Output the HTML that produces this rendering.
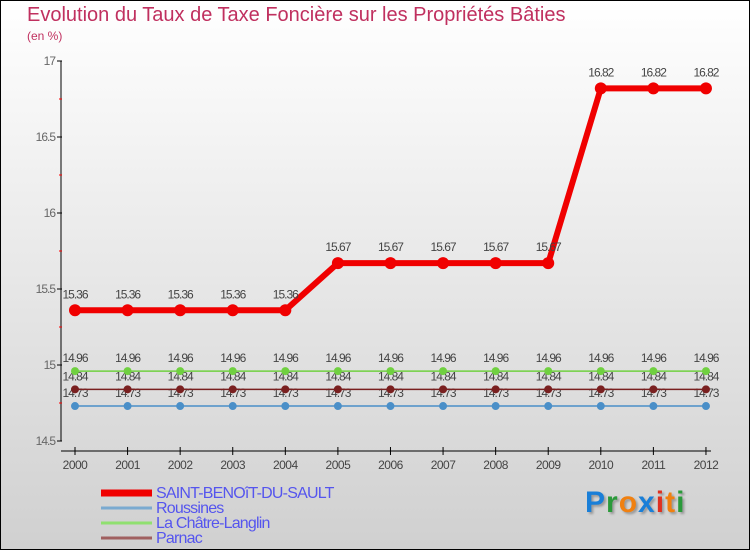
<!DOCTYPE html>
<html><head><meta charset="utf-8"><style>
html,body{margin:0;padding:0}
body{width:750px;height:550px;overflow:hidden;font-family:"Liberation Sans",sans-serif}
#wrap{position:relative;width:748px;height:548px;border:1px solid #000;background:linear-gradient(#ffffff,#d0d0d0)}
.t{position:absolute;white-space:nowrap}
</style></head><body>
<div id="wrap">
<div class="t" style="left:26px;top:3px;font-size:20px;color:#c0305f">Evolution du Taux de Taxe Foncière sur les Propriétés Bâties</div>
<div class="t" style="left:26px;top:28px;font-size:12px;color:#c0305f">(en %)</div>
<svg id="chart" width="748" height="548" style="position:absolute;left:0;top:0"></svg>
<div class="t" style="left:584px;top:485px;font-size:30px;font-weight:bold;letter-spacing:1px;text-shadow:2px 2px 2px #999"><span style="color:#1a7fd8">P</span><span style="color:#2a9a3a">r</span><span style="color:#f08010">o</span><span style="color:#1a7fd8">x</span><span style="color:#e03020">i</span><span style="color:#f08010">t</span><span style="color:#2a9a3a">i</span></div>
</div>
<script>
const years=[2000,2001,2002,2003,2004,2005,2006,2007,2008,2009,2010,2011,2012];
const saint=[15.36,15.36,15.36,15.36,15.36,15.67,15.67,15.67,15.67,15.67,16.82,16.82,16.82];
const roussines=[14.73,14.73,14.73,14.73,14.73,14.73,14.73,14.73,14.73,14.73,14.73,14.73,14.73];
const chatre=[14.96,14.96,14.96,14.96,14.96,14.96,14.96,14.96,14.96,14.96,14.96,14.96,14.96];
const parnac=[14.84,14.84,14.84,14.84,14.84,14.84,14.84,14.84,14.84,14.84,14.84,14.84,14.84];
const yTicks=[14.5,15,15.5,16,16.5,17];
const yTickLabels=["14.5","15","15.5","16","16.5","17"];
const legendNames=["SAINT-BENOîT-DU-SAULT","Roussines","La Châtre-Langlin","Parnac"];

const svg=document.getElementById('chart');
const NS='http://www.w3.org/2000/svg';
const x=i=>74+i*52.58;
const y=v=>364-(v-15)*152;
function mk(tag,attrs,parent){const e=document.createElementNS(NS,tag);for(const k in attrs)e.setAttribute(k,attrs[k]);(parent||svg).appendChild(e);return e;}

let a=mk('line',{x1:60,y1:60,x2:60,y2:440,stroke:'#000','stroke-width':1});


a=mk('line',{x1:60,y1:450,x2:710,y2:450,stroke:'#000','stroke-width':1});


yTicks.forEach((v,i)=>{
  mk('line',{x1:56,y1:y(v),x2:61,y2:y(v),stroke:'#000'});
  const t=mk('text',{x:54,y:y(v)+4,'text-anchor':'end','font-size':12,fill:'#666','letter-spacing':'-1'});
  t.textContent=yTickLabels[i];
  
  
  if(i<yTicks.length-1){mk('line',{x1:58,y1:y(v+0.25),x2:61,y2:y(v+0.25),stroke:'#f00'});}
});
years.forEach((yr,i)=>{
  mk('line',{x1:x(i),y1:446,x2:x(i),y2:454,stroke:'#000'});
  const t=mk('text',{x:x(i),y:468,'text-anchor':'middle','font-size':12,fill:'#444','letter-spacing':'-0.5'});
  t.textContent=yr;
  
  
});

function series(vals,color,width,r,name,labelDy){
  const g=mk('g',{});
  
  
  mk('polyline',{points:vals.map((v,i)=>x(i)+','+y(v)).join(' '),fill:'none',stroke:color,'stroke-width':width,'stroke-linejoin':'round'},g);
  vals.forEach((v,i)=>{
    const c=mk('circle',{cx:x(i),cy:y(v),r:r,fill:color},g);
    
    
    const t=mk('text',{x:x(i),y:y(v)+labelDy,'text-anchor':'middle','font-size':12,fill:'#444','letter-spacing':'-1'},g);
    t.textContent=String(v);
    
    
  });
}
series(roussines,'#4a8fc8',1.5,4,'roussines-series',-9);
series(parnac,'#7a2020',1.5,4,'parnac-series',-9);
series(chatre,'#70d040',1.5,4,'la-chatre-langlin-series',-9);
series(saint,'#f00000',6,6,'saint-benoit-series',-12);

const lc=[['#f00000',7],['#7aaad0',3],['#90e070',3],['#a06060',3]];
legendNames.forEach((n,i)=>{
  const yy=492+i*15;
  const g=mk('g',{});
  
  
  mk('line',{x1:100,y1:yy,x2:151,y2:yy,stroke:lc[i][0],'stroke-width':lc[i][1]},g);
  const t=mk('text',{x:155,y:yy+5,'font-size':16,fill:'#5555ee','letter-spacing':'-0.8'},g);
  t.textContent=n;
});
</script>
</body></html>
